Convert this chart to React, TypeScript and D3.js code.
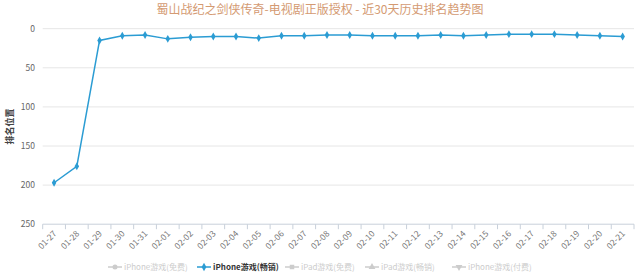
import React from "react";
import * as d3 from "d3";

const title = "蜀山战纪之剑侠传奇-电视剧正版授权 - 近30天历史排名趋势图";
const dates = ["01-27","01-28","01-29","01-30","01-31","02-01","02-02","02-03","02-04","02-05","02-06","02-07","02-08","02-09","02-10","02-11","02-12","02-13","02-14","02-15","02-16","02-17","02-18","02-19","02-20","02-21"];
const ranks = [197,176,15,9,8,13,11,10,10,12,9,9,8,8,9,9,9,8,9,8,7,7,7,8,9,10];
const yTicks = [0,50,100,150,200,250];
const legendItems = ["iPhone游戏(免费)","iPhone游戏(畅销)","iPad游戏(免费)","iPad游戏(畅销)","iPhone游戏(付费)"];
const legendSymbols = ["circle","diamond","square","triangle","triangle-down"];
const activeSeries = 1;

const W = 640, H = 276;
const left = 42.7, right = 634, top = 28.7, bottom = 224.2;
const font = "'Noto Sans CJK SC', 'Noto Sans', sans-serif";
const lineColor = "#2b9cd3";

function symbolPath(kind: string, size: number) {
  const map: Record<string, any> = {
    circle: d3.symbolCircle,
    diamond: d3.symbolDiamond,
    square: d3.symbolSquare,
    triangle: d3.symbolTriangle,
  };
  if (kind === "triangle-down") return d3.symbol(d3.symbolTriangle, size)();
  return d3.symbol(map[kind], size)();
}

export default function App() {
  const x = d3.scaleBand<string>().domain(dates).range([left, right]);
  const y = d3.scaleLinear().domain([0, 250]).range([top, bottom]);
  const line = d3.line<number>().x((_, i) => x(dates[i])! + x.bandwidth() / 2).y((d) => y(d));
  const legendX = [115, 204, 292, 372, 459];
  return (
    <svg width={W} height={H} style={{ position: "absolute", left: 0, top: 0, background: "#fff" }} fontFamily={font}>
      <text x={320} y={14} textAnchor="middle" fontSize={12} fill="#d49a72">{title}</text>
      {yTicks.map((t) => (
        <g key={t}>
          <line x1={left} x2={right} y1={y(t)} y2={y(t)} stroke={t === 250 ? "#c8d0da" : "#e6e6e6"} strokeWidth={1} />
          <text x={35} y={y(t) + 3} textAnchor="end" fontSize={8.5} fill="#666">{t}</text>
        </g>
      ))}
      <text transform={`translate(13,${(top + bottom) / 2}) rotate(-90)`} textAnchor="middle" fontSize={9} fontWeight="bold" fill="#444">排名位置</text>
      {dates.map((d, i) => (
        <line key={"tk" + i} x1={x(d)!} x2={x(d)!} y1={bottom} y2={bottom + 5} stroke="#c8d0da" />
      ))}
      <line x1={right} x2={right} y1={bottom} y2={bottom + 5} stroke="#c8d0da" />
      {dates.map((d) => {
        const cx = x(d)! + x.bandwidth() / 2 + 3;
        const cy = bottom + 10;
        return (
          <text key={"xl" + d} transform={`translate(${cx},${cy}) rotate(-45)`} textAnchor="end" fontSize={8.5} fill="#777">{d}</text>
        );
      })}
      <path d={line(ranks)!} fill="none" stroke={lineColor} strokeWidth={1.5} />
      {ranks.map((r, i) => (
        <path key={"m" + i} d={symbolPath("diamond", 18)!} transform={`translate(${x(dates[i])! + x.bandwidth() / 2},${y(r)})`} fill={lineColor} />
      ))}
      {legendItems.map((name, i) => {
        const lx = legendX[i];
        const ly = 267;
        const active = i === activeSeries;
        const c = active ? lineColor : "#ccc";
        const rot = legendSymbols[i] === "triangle-down" ? " rotate(180)" : "";
        return (
          <g key={name}>
            <line x1={lx - 7} x2={lx + 7} y1={ly} y2={ly} stroke={c} strokeWidth={1.5} />
            <path d={symbolPath(legendSymbols[i], 20)!} transform={`translate(${lx},${ly})${rot}`} fill={c} />
            <text x={lx + 9} y={ly + 3} fontSize={8} fontWeight={active ? "bold" : "normal"} fill={active ? "#333" : "#ccc"}>{name}</text>
          </g>
        );
      })}
    </svg>
  );
}
